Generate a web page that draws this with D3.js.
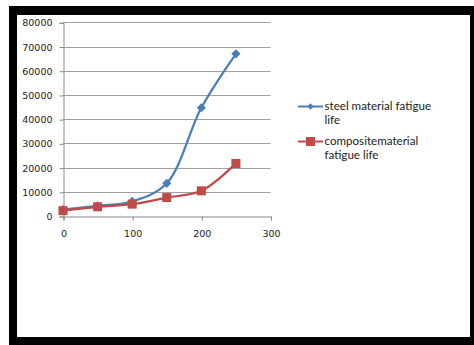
<!DOCTYPE html>
<html>
<head>
<meta charset="utf-8">
<script src="https://cdn.jsdelivr.net/npm/d3@7"></script>
<style>
  html, body { margin: 0; padding: 0; background: #fff; }
  svg { display: block; }
</style>
</head>
<body>
<svg id="chart" width="474" height="345"></svg>
<script>
// Stress amplitude (x) vs fatigue life (cycles)
const xValues = [0, 50, 100, 150, 200, 250];
const steelLife = [2600, 4200, 6000, 13500, 44700, 67000];
const compositeLife = [2200, 3800, 4900, 7600, 10400, 21700];
const yTicks = [0, 10000, 20000, 30000, 40000, 50000, 60000, 70000, 80000];
const xTicks = [0, 100, 200, 300];
const seriesNames = [["steel material fatigue", "life"], ["compositematerial", "fatigue life"]];

const svg = d3.select("#chart");

// Dark frame around the sheet
svg.append("rect").attr("x", 9).attr("y", 6).attr("width", 465).attr("height", 339).attr("fill", "#000");
svg.append("rect").attr("x", 17).attr("y", 15).attr("width", 453).attr("height", 322).attr("fill", "#fff");

const x = d3.scaleLinear().domain([0, 300]).range([63, 270.5]);
const y = d3.scaleLinear().domain([0, 80000]).range([216, 22.3]);

// Horizontal gridlines
svg.append("g").selectAll("line").data(yTicks.slice(1)).join("line")
  .attr("x1", x(0)).attr("x2", x(300))
  .attr("y1", d => Math.round(y(d)) + 0.5).attr("y2", d => Math.round(y(d)) + 0.5)
  .attr("stroke", "#a0a0a0").attr("stroke-width", 1);

// Y axis
const yAxis = d3.axisLeft(y).tickValues(yTicks).tickSize(4).tickPadding(7).tickFormat(d3.format("d"));
const gy = svg.append("g").attr("transform", `translate(${x(0) + 0.5},0.5)`).call(yAxis);
gy.select(".domain").attr("stroke", "#8a8a8a");
gy.selectAll(".tick line").attr("stroke", "#8a8a8a");
gy.selectAll(".tick text").attr("font-family", "DejaVu Sans, Verdana, sans-serif").attr("font-size", 9.5).attr("fill", "#222");

// X axis
const xAxis = d3.axisBottom(x).tickValues(xTicks).tickSize(4).tickPadding(10).tickFormat(d3.format("d"));
const gx = svg.append("g").attr("transform", `translate(0.5,${Math.round(y(0)) + 0.5})`).call(xAxis);
gx.select(".domain").attr("stroke", "#8a8a8a");
gx.selectAll(".tick line").attr("stroke", "#8a8a8a");
gx.selectAll(".tick text").attr("font-family", "DejaVu Sans, Verdana, sans-serif").attr("font-size", 9.5).attr("fill", "#222");

const line = d3.line().x((d, i) => x(xValues[i])).y(d => y(d)).curve(d3.curveCatmullRom.alpha(0.5));

const steelColor = "#4a7ebb";
const compColor = "#be4b48";

// Square diamond marker (rotated square)
const diamondPath = "M0,-4.6L4.6,0L0,4.6L-4.6,0Z";

// Steel series
svg.append("path").datum(steelLife).attr("d", line)
  .attr("fill", "none").attr("stroke", steelColor).attr("stroke-width", 2.25);
svg.append("g").selectAll("path").data(steelLife).join("path")
  .attr("d", diamondPath)
  .attr("transform", (d, i) => `translate(${x(xValues[i])},${y(d)})`)
  .attr("fill", steelColor);

// Composite series
svg.append("path").datum(compositeLife).attr("d", line)
  .attr("fill", "none").attr("stroke", compColor).attr("stroke-width", 2.25);
svg.append("g").selectAll("rect").data(compositeLife).join("rect")
  .attr("x", (d, i) => x(xValues[i]) - 4.5).attr("y", d => y(d) - 4.5)
  .attr("width", 9).attr("height", 9)
  .attr("fill", compColor);

// Legend
const legend = svg.append("g").attr("font-family", "Lato, 'Open Sans', sans-serif").attr("font-size", 11.6).attr("fill", "#222");
const legendRows = [
  { color: steelColor, marker: "diamond", y: 106.5, lines: seriesNames[0] },
  { color: compColor, marker: "square", y: 141.5, lines: seriesNames[1] }
];
legendRows.forEach(r => {
  legend.append("line").attr("x1", 298).attr("x2", 323).attr("y1", r.y).attr("y2", r.y)
    .attr("stroke", r.color).attr("stroke-width", 2);
  if (r.marker === "diamond") {
    legend.append("path").attr("d", "M0,-3.2L3.2,0L0,3.2L-3.2,0Z").attr("transform", `translate(310.5,${r.y})`).attr("fill", r.color);
  } else {
    legend.append("rect").attr("x", 306).attr("y", r.y - 4.5).attr("width", 9).attr("height", 9).attr("fill", r.color);
  }
  r.lines.forEach((t, k) => {
    legend.append("text").attr("x", 324.5).attr("y", r.y + 3.8 + k * 13.5).text(t);
  });
});
</script>
</body>
</html>
